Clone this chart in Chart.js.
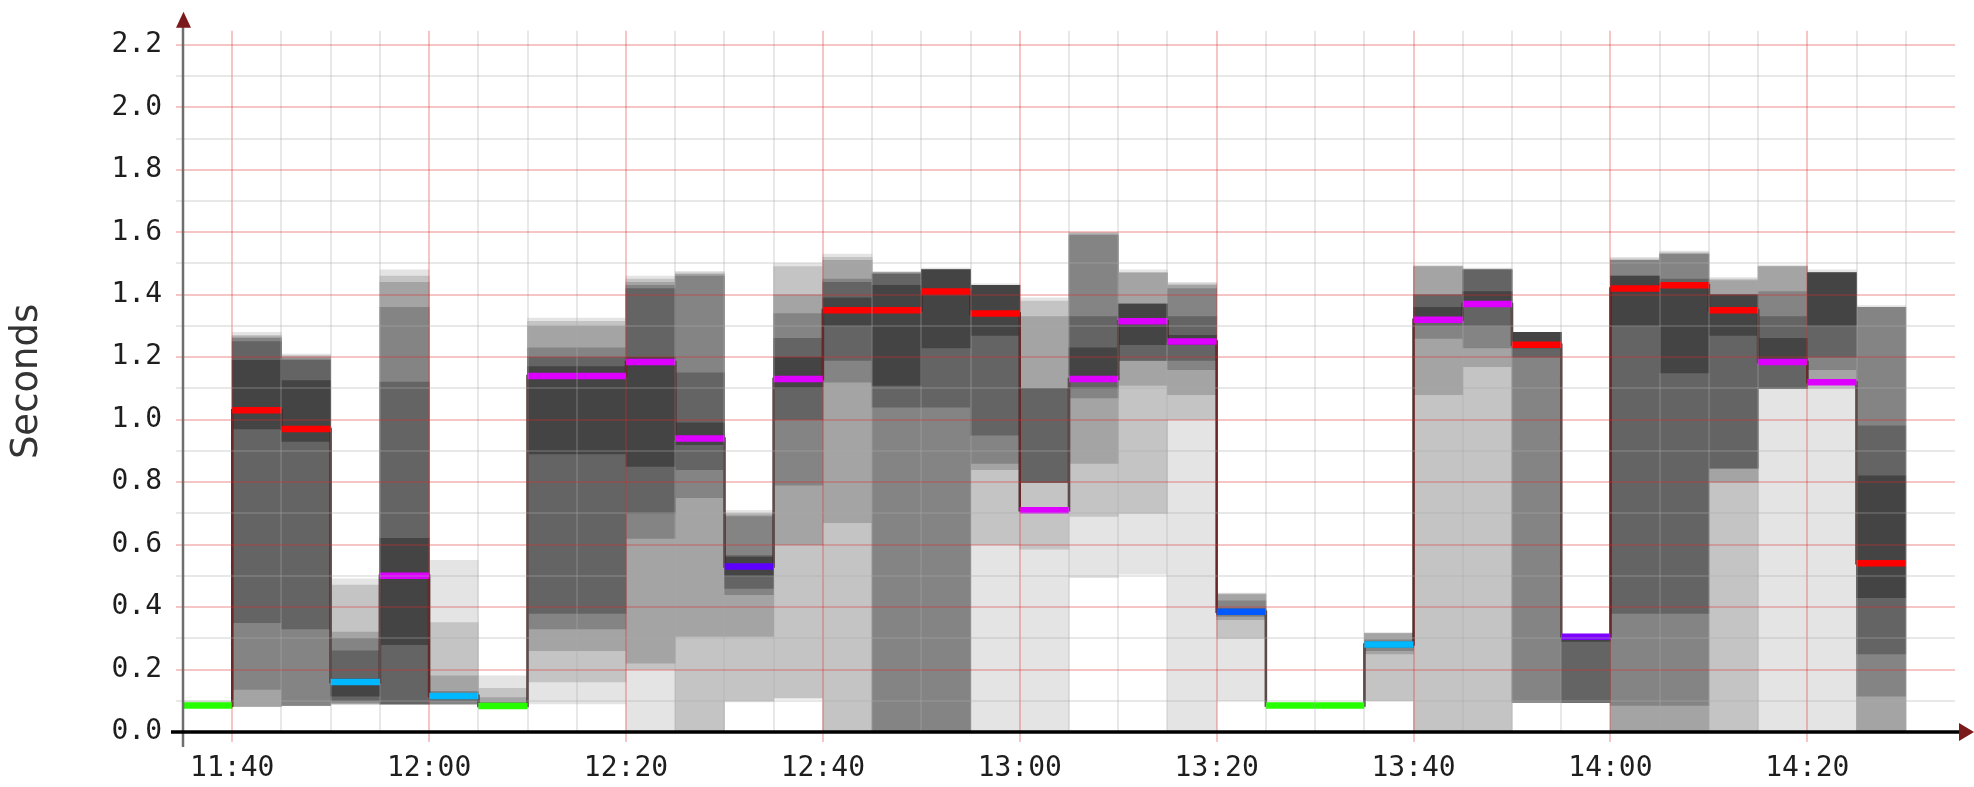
<!DOCTYPE html>
<html>
<head>
<meta charset="utf-8">
<title>Latency</title>
<script src="https://cdn.jsdelivr.net/npm/chart.js@4.4.1/dist/chart.umd.min.js"></script>
<style>
  html, body { margin: 0; padding: 0; background: #fff; }
  #wrap { width: 1974px; height: 787px; position: relative; }
</style>
</head>
<body>
<div id="wrap"><canvas id="smokeChart"></canvas></div>
<script>
// time axis in minutes since midnight, one step = 5 min, first step 11:35
var startMinute = 11 * 60 + 35;
var stepMinutes = 5;
var axisEndMinute = 14 * 60 + 35;

// median rtt per step (seconds)
var medians = [0.085, 1.03, 0.97, 0.16, 0.50, 0.115, 0.083, 1.14, 1.14, 1.185,
    0.94, 0.53, 1.13, 1.35, 1.35, 1.41, 1.34, 0.71, 1.13, 1.315,
    1.25, 0.385, 0.085, 0.085, 0.28, 1.32, 1.37, 1.24, 0.305, 1.42,
    1.43, 1.35, 1.185, 1.12, 0.54];

// lost pings per step (of 20)
var lossCount = [0, 19, 19, 1, 10, 1, 0, 10, 10, 10,
    10, 3, 10, 19, 19, 19, 19, 10, 10, 10,
    10, 2, 0, 0, 1, 10, 10, 19, 4, 19,
    19, 19, 10, 10, 19];

// sorted ping quantiles per step (the smoke), low edges then high edges
var pings = [
    [0.08, 0.08, 0.08, 0.08, 0.08, 0.08, 0.085, 0.085, 0.085, 0.085, 0.09, 0.1],
    [0.082, 0.082, 0.082, 0.136, 0.35, 0.97, 1.19, 1.25, 1.26, 1.265, 1.27, 1.28],
    [0.085, 0.085, 0.085, 0.085, 0.33, 0.93, 1.125, 1.19, 1.195, 1.2, 1.205, 1.21],
    [0.09, 0.09, 0.09, 0.095, 0.1, 0.115, 0.17, 0.26, 0.30, 0.32, 0.47, 0.49],
    [0.09, 0.09, 0.09, 0.09, 0.09, 0.28, 0.62, 1.12, 1.36, 1.44, 1.46, 1.48],
    [0.09, 0.09, 0.09, 0.09, 0.1, 0.11, 0.12, 0.125, 0.13, 0.18, 0.35, 0.55],
    [0.083, 0.083, 0.083, 0.083, 0.083, 0.083, 0.085, 0.09, 0.095, 0.11, 0.14, 0.18],
    [0.09, 0.16, 0.26, 0.33, 0.38, 0.89, 1.17, 1.2, 1.23, 1.3, 1.315, 1.325],
    [0.09, 0.16, 0.26, 0.33, 0.38, 0.89, 1.17, 1.2, 1.23, 1.3, 1.315, 1.325],
    [0, 0.2, 0.22, 0.62, 0.7, 0.85, 1.2, 1.42, 1.43, 1.44, 1.45, 1.46],
    [0, 0, 0.306, 0.75, 0.84, 0.92, 0.99, 1.15, 1.46, 1.465, 1.47, 1.475],
    [0.096, 0.1, 0.306, 0.44, 0.46, 0.5, 0.56, 0.565, 0.69, 0.695, 0.7, 0.71],
    [0.105, 0.11, 0.6, 0.79, 1.0, 1.1, 1.2, 1.26, 1.34, 1.4, 1.49, 1.5],
    [0, 0, 0.67, 1.12, 1.19, 1.3, 1.39, 1.44, 1.45, 1.51, 1.52, 1.53],
    [0, 0, 0, 0, 1.04, 1.11, 1.43, 1.465, 1.47, 1.47, 1.47, 1.475],
    [0, 0, 0, 0, 1.04, 1.23, 1.48, 1.48, 1.48, 1.48, 1.48, 1.485],
    [0, 0.6, 0.84, 0.86, 0.95, 1.27, 1.43, 1.43, 1.43, 1.43, 1.43, 1.435],
    [0, 0.585, 0.8, 0.8, 0.8, 0.8, 0.8, 1.1, 1.1, 1.33, 1.38, 1.39],
    [0.494, 0.69, 0.86, 1.07, 1.1, 1.14, 1.23, 1.33, 1.59, 1.595, 1.598, 1.6],
    [0.505, 0.7, 1.11, 1.19, 1.19, 1.24, 1.37, 1.37, 1.37, 1.47, 1.47, 1.48],
    [0, 1.0, 1.08, 1.16, 1.19, 1.24, 1.27, 1.33, 1.42, 1.43, 1.435, 1.44],
    [0.1, 0.3, 0.36, 0.37, 0.375, 0.38, 0.39, 0.395, 0.42, 0.44, 0.442, 0.445],
    [0.083, 0.083, 0.083, 0.083, 0.083, 0.083, 0.085, 0.085, 0.085, 0.085, 0.087, 0.09],
    [0.083, 0.083, 0.083, 0.083, 0.083, 0.083, 0.085, 0.085, 0.085, 0.085, 0.087, 0.09],
    [0.1, 0.1, 0.25, 0.26, 0.27, 0.275, 0.285, 0.29, 0.295, 0.315, 0.316, 0.318],
    [0, 0, 1.08, 1.26, 1.3, 1.33, 1.36, 1.4, 1.4, 1.49, 1.49, 1.495],
    [0, 0, 1.17, 1.23, 1.3, 1.37, 1.41, 1.48, 1.48, 1.48, 1.482, 1.485],
    [0.095, 0.095, 0.095, 0.095, 1.2, 1.23, 1.28, 1.28, 1.28, 1.28, 1.28, 1.28],
    [0.095, 0.095, 0.095, 0.095, 0.095, 0.29, 0.31, 0.31, 0.31, 0.31, 0.31, 0.31],
    [0, 0, 0, 0.085, 0.38, 1.3, 1.46, 1.46, 1.51, 1.51, 1.515, 1.52],
    [0, 0, 0, 0.085, 0.38, 1.15, 1.44, 1.45, 1.53, 1.53, 1.535, 1.54],
    [0, 0, 0.8, 0.845, 0.845, 1.27, 1.4, 1.4, 1.4, 1.445, 1.45, 1.455],
    [0, 1.1, 1.1, 1.1, 1.1, 1.19, 1.26, 1.33, 1.41, 1.49, 1.49, 1.495],
    [0, 1.1, 1.13, 1.16, 1.2, 1.3, 1.47, 1.47, 1.47, 1.47, 1.47, 1.48],
    [0, 0, 0, 0.115, 0.25, 0.43, 0.82, 0.98, 1.36, 1.36, 1.36, 1.365]
];

var yTicks = [0.0, 0.1, 0.2, 0.3, 0.4, 0.5, 0.6, 0.7, 0.8, 0.9, 1.0, 1.1,
    1.2, 1.3, 1.4, 1.5, 1.6, 1.7, 1.8, 1.9, 2.0, 2.1, 2.2];

var lossSteps = [0, 1, 2, 3, 4, 10, 19];
var lossColors = ['#26ff00', '#00b8ff', '#0059ff', '#5e00ff', '#7e00ff', '#dd00ff', '#ff0000'];

function lossColor(n) {
    var c = lossColors[0];
    for (var i = 0; i < lossSteps.length; i++) {
        if (n >= lossSteps[i]) c = lossColors[i];
    }
    return c;
}

function smokeShade(level) {
    var g = 228 - level * 32;
    return 'rgb(' + g + ',' + g + ',' + g + ')';
}

function hhmm(m) {
    var h = Math.floor(m / 60), mm = m % 60;
    return h + ':' + (mm < 10 ? '0' : '') + mm;
}

var gridRed = 'rgba(220,40,40,0.27)';
var gridGray = 'rgba(170,170,170,0.27)';

document.addEventListener('DOMContentLoaded', function () {
    var datasets = [];
    var half = pings[0].length / 2;

    // smoke: nested bands, outer light, inner dark
    for (var k = 0; k < half; k++) {
        (function (k) {
            datasets.push({
                type: 'bar',
                data: pings.map(function (p, i) {
                    return { x: startMinute + i * stepMinutes + stepMinutes / 2, y: [p[k], p[p.length - 1 - k]] };
                }),
                backgroundColor: smokeShade(k),
                borderWidth: 0,
                barPercentage: 1,
                categoryPercentage: 1,
                grouped: false,
                order: 20 - k
            });
        })(k);
    }

    // median step line
    var stepPoints = medians.map(function (m, i) {
        return { x: startMinute + i * stepMinutes, y: m };
    });
    stepPoints.push({ x: startMinute + medians.length * stepMinutes, y: medians[medians.length - 1] });
    datasets.push({
        type: 'line',
        data: stepPoints,
        stepped: 'before',
        borderColor: '#402828',
        borderWidth: 2.5,
        pointRadius: 0,
        fill: false,
        order: 2
    });

    // median coloured by loss
    var medianSegs = [];
    medians.forEach(function (m, i) {
        var s = startMinute + i * stepMinutes;
        medianSegs.push({ x: s, y: m }, { x: s + stepMinutes, y: m }, { x: s + stepMinutes, y: null });
    });
    datasets.push({
        type: 'line',
        data: medianSegs,
        borderColor: '#26ff00',
        borderWidth: 6.5,
        borderCapStyle: 'butt',
        pointRadius: 0,
        fill: false,
        spanGaps: false,
        segment: {
            borderColor: function (ctx) { return lossColor(lossCount[Math.floor(ctx.p0DataIndex / 3)]); }
        },
        order: 1
    });

    var axisArrows = {
        id: 'axisArrows',
        afterDraw: function (chart) {
            var c = chart.ctx, a = chart.chartArea;
            c.save();
            c.strokeStyle = '#6e6e6e';
            c.lineWidth = 2.5;
            c.beginPath();
            c.moveTo(a.left, a.top - 4);
            c.lineTo(a.left, a.bottom + 15);
            c.stroke();
            c.strokeStyle = '#000';
            c.lineWidth = 3.3;
            c.beginPath();
            c.moveTo(a.left - 12, a.bottom);
            c.lineTo(a.right + 4, a.bottom);
            c.stroke();
            c.fillStyle = '#7a1a1a';
            c.beginPath();
            c.moveTo(a.left + 0.5, a.top - 19);
            c.lineTo(a.left - 7, a.top - 3);
            c.lineTo(a.left + 8, a.top - 3);
            c.closePath();
            c.fill();
            c.beginPath();
            c.moveTo(a.right + 19, a.bottom);
            c.lineTo(a.right + 4, a.bottom - 9);
            c.lineTo(a.right + 4, a.bottom + 9);
            c.closePath();
            c.fill();
            c.restore();
        }
    };

    var ctx = document.getElementById('smokeChart').getContext('2d');
    new Chart(ctx, {
        type: 'bar',
        data: { datasets: datasets },
        options: {
            responsive: true,
            maintainAspectRatio: false,
            animation: false,
            layout: { padding: { top: 27, right: 19, left: 0, bottom: 0 } },
            plugins: { legend: { display: false }, tooltip: { enabled: false } },
            scales: {
                x: {
                    type: 'linear',
                    min: startMinute,
                    max: axisEndMinute,
                    offset: false,
                    afterBuildTicks: function (s) {
                        var t = [];
                        for (var m = startMinute; m < axisEndMinute; m += stepMinutes) t.push({ value: m });
                        s.ticks = t;
                    },
                    afterFit: function (s) { s.height = 55; },
                    border: { display: false },
                    grid: {
                        z: 1,
                        offset: false,
                        lineWidth: 2,
                        tickLength: 10,
                        color: function (c) { return c.tick && c.tick.value % 20 === 0 ? gridRed : gridGray; },
                        tickColor: function (c) { return c.tick && c.tick.value % 20 === 0 ? gridRed : 'rgba(0,0,0,0)'; }
                    },
                    ticks: {
                        autoSkip: false,
                        maxRotation: 0,
                        padding: 10,
                        color: '#1e1e1e',
                        font: { family: 'DejaVu Sans Mono', size: 28 },
                        callback: function (v) { return v % 20 === 0 ? hhmm(v) : ''; }
                    }
                },
                y: {
                    type: 'linear',
                    min: 0,
                    max: 2.245,
                    afterBuildTicks: function (s) {
                        s.ticks = yTicks.map(function (v) { return { value: v }; });
                    },
                    afterFit: function (s) { s.width = 183; },
                    border: { display: false },
                    grid: {
                        z: 1,
                        lineWidth: 2,
                        tickLength: 7,
                        color: function (c) { return c.tick && Math.round(c.tick.value * 10) % 2 === 0 ? gridRed : gridGray; },
                        tickColor: function (c) { return c.tick && Math.round(c.tick.value * 10) % 2 === 0 ? gridRed : gridGray; }
                    },
                    ticks: {
                        autoSkip: false,
                        padding: 14,
                        color: '#1e1e1e',
                        font: { family: 'DejaVu Sans Mono', size: 28 },
                        callback: function (v) { return Math.round(v * 10) % 2 === 0 ? v.toFixed(1) : ''; }
                    },
                    title: {
                        display: true,
                        text: 'Seconds',
                        color: '#333',
                        font: { family: 'DejaVu Sans', size: 37 },
                        padding: { top: 5, bottom: 0 }
                    }
                }
            }
        },
        plugins: [axisArrows]
    });
});
</script>
</body>
</html>
